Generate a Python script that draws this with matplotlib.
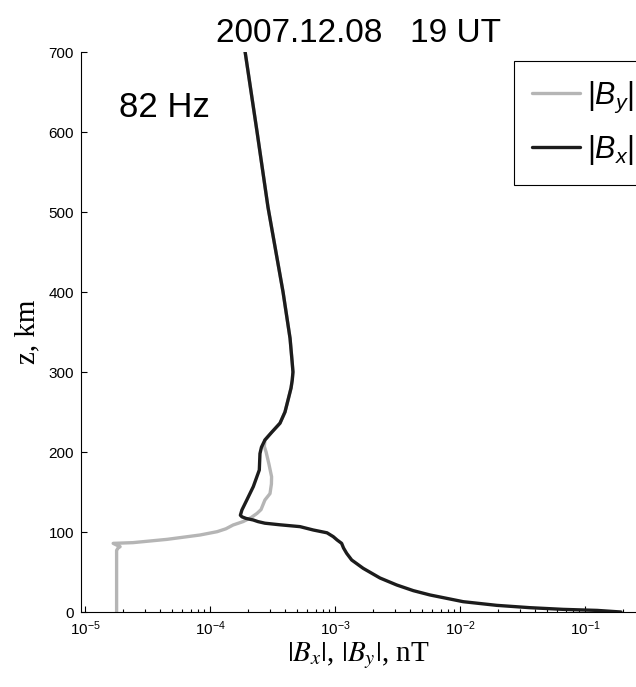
import matplotlib
matplotlib.use('Agg')
import matplotlib.pyplot as plt

plt.rcParams['font.family'] = 'Liberation Sans'
plt.rcParams['mathtext.fontset'] = 'custom'
plt.rcParams['mathtext.rm'] = 'Liberation Sans'
plt.rcParams['mathtext.it'] = 'Liberation Sans:italic'

# altitude (km) and |Bx| (nT)
z_bx = [0, 2, 3.3, 5.4, 8.3, 12.9, 21.3, 26.7, 33.75, 42.5, 54.6, 65, 73.3, 80,
        85.8, 90, 94.2, 99, 102.5, 106.7, 109, 111, 113, 115, 117, 119, 121,
        127.5, 140, 156.7, 177.5, 198, 206, 215, 225, 236, 250, 265, 280, 290,
        300, 311, 342, 400, 506, 600, 700]
bx = [0.194, 0.125, 0.0667, 0.0363, 0.0197, 0.0106, 0.00575, 0.00423, 0.00312,
      0.00229, 0.00168, 0.00136, 0.00124, 0.00117, 0.00113, 0.00104, 9.68e-4,
      8.63e-4, 6.70e-4, 5.25e-4, 3.63e-4, 2.75e-4, 2.42e-4, 2.22e-4, 1.94e-4,
      1.80e-4, 1.75e-4, 1.80e-4, 1.97e-4, 2.22e-4, 2.48e-4, 2.51e-4, 2.58e-4,
      2.75e-4, 3.13e-4, 3.63e-4, 3.98e-4, 4.21e-4, 4.45e-4, 4.55e-4, 4.61e-4,
      4.55e-4, 4.37e-4, 3.84e-4, 2.91e-4, 2.38e-4, 1.91e-4]

# |By| (nT), joins |Bx| above ~210 km
z_by = [0, 77, 80, 81.7, 83.5, 85.8, 86.7, 90.8, 96.25, 100.4, 104, 108.75,
        113, 118, 123.3, 128, 140, 148, 160, 169, 185, 200, 207,
        215, 225, 236, 250, 265, 280, 290, 300, 311, 342, 400, 506, 600, 700]
by = [1.79e-5, 1.79e-5, 1.84e-5, 1.91e-5, 1.80e-5, 1.68e-5, 2.42e-5, 4.53e-5,
      8.32e-5, 1.14e-4, 1.34e-4, 1.53e-4, 1.84e-4, 2.13e-4, 2.38e-4, 2.56e-4,
      2.75e-4, 3.02e-4, 3.10e-4, 3.11e-4, 2.96e-4, 2.81e-4, 2.72e-4,
      2.75e-4, 3.13e-4, 3.63e-4, 3.98e-4, 4.21e-4, 4.45e-4, 4.55e-4, 4.61e-4,
      4.55e-4, 4.37e-4, 3.84e-4, 2.91e-4, 2.38e-4, 1.91e-4]

y_ticks = [0, 100, 200, 300, 400, 500, 600, 700]

fig = plt.figure(figsize=(6.36, 6.87), dpi=100)
ax = fig.add_axes([81 / 636, 1 - 612 / 687, 555 / 636, 560 / 687])

ax.plot(by, z_by, color='#b5b5b5', lw=2.4, label=r'$|B_y|$',
        solid_joinstyle='round', solid_capstyle='round')
ax.plot(bx, z_bx, color='#1c1c1c', lw=2.4, label=r'$|B_x|$',
        solid_joinstyle='round', solid_capstyle='round')

ax.set_xscale('log')
ax.set_xlim(10 ** -5.032, 10 ** -0.592)
ax.set_ylim(0, 700)
ax.set_yticks(y_ticks)

ax.spines['top'].set_visible(False)
ax.spines['right'].set_visible(False)
ax.spines['left'].set_linewidth(0.8)
ax.spines['bottom'].set_linewidth(0.8)
ax.tick_params(which='both', direction='in', width=0.8, labelsize=11, pad=5)
ax.tick_params(which='major', length=4.3)
ax.tick_params(which='minor', length=2.2)

ax.set_title('2007.12.08   19 UT', fontsize=24, pad=7)
ax.text(0.068, 0.884, '82 Hz', transform=ax.transAxes, fontsize=25,
        va='baseline')

ax.set_xlabel(r'$|B_x|$, $|B_y|$, nT', fontsize=21, family='Liberation Serif',
              math_fontfamily='stix', labelpad=2)
ax.set_ylabel('z, km', fontsize=21, family='Liberation Serif', labelpad=6)

leg_top = 1 - 61 / 687
leg = ax.legend(loc='upper left',
                bbox_to_anchor=(514 / 636, leg_top - 0.2, 140 / 636, 0.2),
                bbox_transform=fig.transFigure, mode='expand', fontsize=22,
                handlelength=1.55, handletextpad=0.25, borderpad=0.6,
                labelspacing=0.6, fancybox=False, framealpha=1, borderaxespad=0)
leg.get_frame().set_edgecolor('black')
leg.get_frame().set_linewidth(0.8)

fig.savefig('out.png', dpi=100)
